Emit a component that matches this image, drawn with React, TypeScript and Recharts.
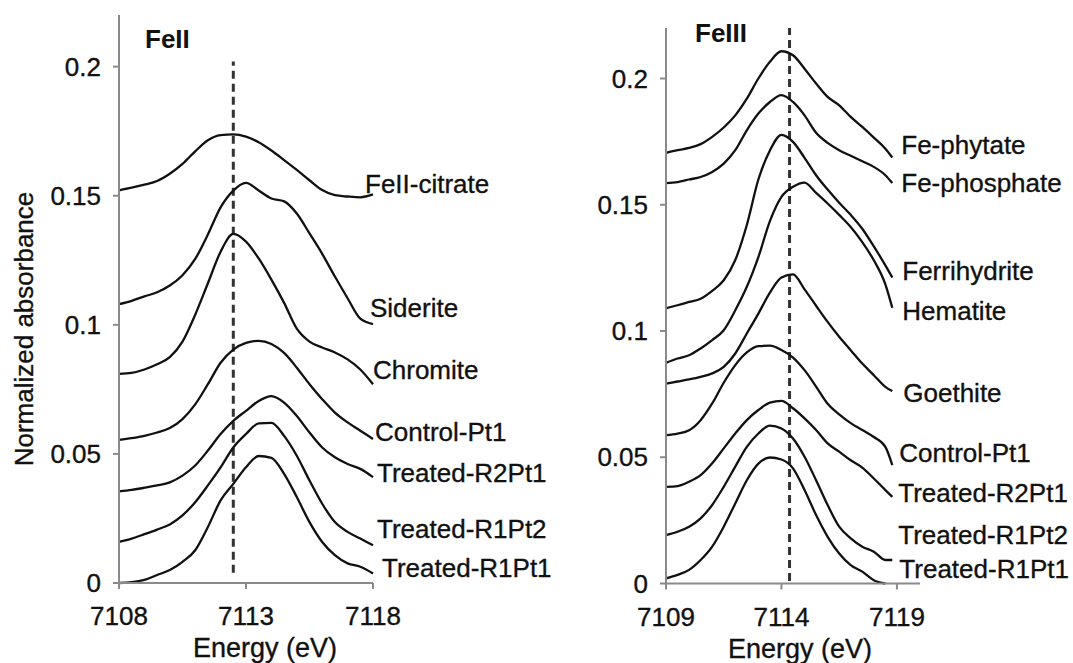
import React from "react";
import {
  LineChart,
  Line,
  XAxis,
  YAxis,
  ReferenceLine,
  Customized,
} from "recharts";

// energy grids (eV)
const feIIEnergy = [
  7108, 7108.5, 7109, 7109.5, 7110, 7110.5, 7111, 7111.5, 7112, 7112.5, 7113,
  7113.5, 7114, 7114.5, 7115, 7115.5, 7116, 7116.5, 7117, 7117.5, 7118,
];
const feIIIEnergy = [
  7109, 7109.5, 7110, 7110.5, 7111, 7111.5, 7112, 7112.5, 7113, 7113.5, 7114,
  7114.5, 7115, 7115.5, 7116, 7116.5, 7117, 7117.5, 7118, 7118.5, 7118.8,
];

// FeII panel spectra
const feIICitrate = [
  0.1521, 0.1531, 0.1543, 0.1557, 0.1585, 0.1623, 0.1672, 0.1715, 0.1735,
  0.1738, 0.1729, 0.1707, 0.1675, 0.1638, 0.16, 0.156, 0.1522, 0.1502, 0.1497,
  0.1494, 0.1505,
];
const siderite = [
  0.108, 0.1093, 0.111, 0.1126, 0.1152, 0.1192, 0.1255, 0.135, 0.1455, 0.152,
  0.155, 0.152, 0.1489, 0.1478, 0.1431, 0.1354, 0.1275, 0.1187, 0.1103, 0.1024,
  0.1003,
];
const chromite = [
  0.081, 0.0814, 0.0827, 0.0847, 0.0875, 0.0935, 0.1039, 0.1161, 0.1283,
  0.1352, 0.1322, 0.1257, 0.1175, 0.1085, 0.0985, 0.0935, 0.0912, 0.0893,
  0.0866, 0.0827, 0.077,
];
const controlPt1II = [
  0.0554, 0.0561, 0.057, 0.0583, 0.06, 0.0635, 0.0692, 0.077, 0.0853, 0.0904,
  0.093, 0.0938, 0.0926, 0.0891, 0.0834, 0.077, 0.0712, 0.066, 0.0622, 0.059,
  0.0558,
];
const treatedR2Pt1II = [
  0.0355, 0.0361, 0.0369, 0.0378, 0.039, 0.0416, 0.0455, 0.0513, 0.0577,
  0.0628, 0.0667, 0.0705, 0.0724, 0.0699, 0.0647, 0.0583, 0.0525, 0.0487,
  0.0461, 0.0442, 0.041,
];
const treatedR1Pt2II = [
  0.0159, 0.0172, 0.0189, 0.0207, 0.0227, 0.0262, 0.0313, 0.0378, 0.0448,
  0.0525, 0.0577, 0.0618, 0.062, 0.057, 0.0493, 0.0397, 0.0307, 0.0236, 0.0198,
  0.0172, 0.0146,
];
const treatedR1Pt1II = [
  0.0, 0.0003, 0.0012, 0.0031, 0.005, 0.0082, 0.0127, 0.0217, 0.032, 0.0384,
  0.0448, 0.0492, 0.0485, 0.0423, 0.0333, 0.0236, 0.0159, 0.0108, 0.0076,
  0.0063, 0.0037,
];

// FeIII panel spectra
const fePhytate = [
  0.1705, 0.1716, 0.1725, 0.174, 0.1769, 0.1806, 0.1854, 0.192, 0.2, 0.2066,
  0.2108, 0.2092, 0.2039, 0.198, 0.1927, 0.1894, 0.1848, 0.1808, 0.1766,
  0.1722, 0.1687,
];
const fePhosphate = [
  0.1586, 0.159, 0.16, 0.161, 0.163, 0.1663, 0.1716, 0.1795, 0.1861, 0.1907,
  0.1934, 0.1907, 0.1854, 0.1785, 0.1745, 0.1716, 0.1694, 0.1672, 0.165,
  0.1617, 0.1586,
];
const ferrihydrite = [
  0.109, 0.1102, 0.1115, 0.1128, 0.1159, 0.1201, 0.1281, 0.142, 0.16, 0.1715,
  0.1777, 0.1749, 0.1686, 0.1617, 0.156, 0.1508, 0.146, 0.1405, 0.1335, 0.126,
  0.1212,
];
const hematite = [
  0.0874, 0.0891, 0.0904, 0.0931, 0.0964, 0.1003, 0.1082, 0.1175, 0.1293,
  0.1435, 0.1531, 0.1571, 0.1588, 0.1547, 0.1505, 0.146, 0.1412, 0.1352, 0.128,
  0.1185, 0.1092,
];
const goethite = [
  0.0792, 0.08, 0.0808, 0.0818, 0.0832, 0.0858, 0.0911, 0.099, 0.1069, 0.1152,
  0.1212, 0.1224, 0.1165, 0.11, 0.1036, 0.0977, 0.0924, 0.0871, 0.0825, 0.0779,
  0.0762,
];
const controlPt1III = [
  0.0588, 0.0594, 0.0607, 0.0647, 0.0713, 0.0795, 0.0865, 0.0915, 0.094,
  0.0942, 0.0925, 0.0895, 0.0845, 0.078, 0.0712, 0.067, 0.0635, 0.0608, 0.058,
  0.0541, 0.0469,
];
const treatedR2Pt1III = [
  0.0383, 0.0386, 0.0403, 0.0429, 0.0476, 0.0535, 0.0594, 0.0647, 0.0687,
  0.0716, 0.0723, 0.0694, 0.0654, 0.0608, 0.0555, 0.0522, 0.0488, 0.0459,
  0.0416, 0.037, 0.0343,
];
const treatedR1Pt2III = [
  0.0192, 0.0205, 0.0225, 0.0258, 0.0311, 0.0383, 0.0463, 0.0541, 0.0594,
  0.0625, 0.0614, 0.0574, 0.0502, 0.0409, 0.0311, 0.0225, 0.0179, 0.0146,
  0.0126, 0.0093, 0.0093,
];
const treatedR1Pt1III = [
  0.002, 0.0034, 0.0054, 0.0093, 0.0146, 0.0225, 0.0317, 0.0409, 0.0475,
  0.0499, 0.0491, 0.0456, 0.037, 0.0271, 0.0185, 0.0119, 0.0073, 0.0047,
  0.0013, 0.0, null,
];

const yTicks = [0, 0.05, 0.1, 0.15, 0.2];
const feIIXTicks = [7108, 7113, 7118];
const feIIIXTicks = [7109, 7114, 7119];
const feIIEdge = 7112.5;
const feIIIEdge = 7114.35;

const FONT = "'Liberation Sans', Arial, Helvetica, sans-serif";
const TEXT = "#111";
const AXIS = "#8a8a8a";

type Series = {
  key: string;
  name: string;
  values: (number | null)[];
  dx: number;
  dy: number;
};

const feIISeries: Series[] = [
  { key: "citrate", name: "FeII-citrate", values: feIICitrate, dx: -8, dy: -10 },
  { key: "siderite", name: "Siderite", values: siderite, dx: -3, dy: -16 },
  { key: "chromite", name: "Chromite", values: chromite, dx: 0, dy: -14 },
  { key: "control", name: "Control-Pt1", values: controlPt1II, dx: 2, dy: -7 },
  { key: "r2pt1", name: "Treated-R2Pt1", values: treatedR2Pt1II, dx: 4, dy: -4 },
  { key: "r1pt2", name: "Treated-R1Pt2", values: treatedR1Pt2II, dx: 4, dy: -16 },
  { key: "r1pt1", name: "Treated-R1Pt1", values: treatedR1Pt1II, dx: 9, dy: -5 },
];

const feIIISeries: Series[] = [
  { key: "phytate", name: "Fe-phytate", values: fePhytate, dx: 9, dy: -13 },
  { key: "phosphate", name: "Fe-phosphate", values: fePhosphate, dx: 9, dy: 0 },
  { key: "ferri", name: "Ferrihydrite", values: ferrihydrite, dx: 10, dy: -6 },
  { key: "hematite", name: "Hematite", values: hematite, dx: 10, dy: 3 },
  { key: "goethite", name: "Goethite", values: goethite, dx: 11, dy: 2 },
  { key: "control", name: "Control-Pt1", values: controlPt1III, dx: 7, dy: -12 },
  { key: "r2pt1", name: "Treated-R2Pt1", values: treatedR2Pt1III, dx: 6, dy: -4 },
  { key: "r1pt2", name: "Treated-R1Pt2", values: treatedR1Pt2III, dx: 6, dy: -25 },
  { key: "r1pt1", name: "Treated-R1Pt1", values: treatedR1Pt1III, dx: 14, dy: -15 },
];

function buildRows(energy: number[], series: Series[]) {
  return energy.map((e, i) => {
    const row: Record<string, number | null> = { e };
    series.forEach((s) => {
      row[s.key] = s.values[i];
    });
    return row;
  });
}

const feIIData = buildRows(feIIEnergy, feIISeries);
const feIIIData = buildRows(feIIIEnergy, feIIISeries);

// slightly heavier text, the source figure is a blurred bitmap
const heavy = { stroke: TEXT, strokeWidth: 0.35 };

function endLabel(s: Series) {
  let last = s.values.length - 1;
  while (last > 0 && s.values[last] == null) last--;
  return (props: any) => {
    if (props.index !== last) return null;
    return (
      <text
        x={props.x + s.dx}
        y={props.y + s.dy}
        dominantBaseline="central"
        textAnchor="start"
        fontSize={26}
        fontFamily={FONT}
        fill={TEXT}
        {...heavy}
      >
        {s.name}
      </text>
    );
  };
}

const tickStyle = {
  fill: TEXT,
  fontSize: 26,
  fontFamily: FONT,
  ...heavy,
};

function Panel({
  data,
  series,
  xDomain,
  xTicks,
  edge,
  edgeTop,
  edgeBottom,
  width,
  margin,
  title,
  titleX,
  titleY,
  xLabelX,
  xLabelY,
  showYLabel,
}: any) {
  return (
    <LineChart width={width} height={663} data={data} margin={margin}>
      <XAxis
        dataKey="e"
        type="number"
        domain={xDomain}
        ticks={xTicks}
        height={50}
        tick={tickStyle}
        tickSize={6}
        tickMargin={18}
        axisLine={{ stroke: AXIS, strokeWidth: 2 }}
        tickLine={{ stroke: AXIS, strokeWidth: 2 }}
      />
      <YAxis
        type="number"
        domain={[0, 0.22]}
        ticks={yTicks}
        width={60}
        tick={tickStyle}
        tickSize={6}
        tickMargin={12}
        axisLine={{ stroke: AXIS, strokeWidth: 2 }}
        tickLine={{ stroke: AXIS, strokeWidth: 2 }}
      />
      <ReferenceLine
        segment={[
          { x: edge, y: edgeBottom },
          { x: edge, y: edgeTop },
        ]}
        stroke="#333"
        strokeWidth={3}
        strokeDasharray="8 5"
      />
      {series.map((s: Series) => (
        <Line
          key={s.key}
          dataKey={s.key}
          type="monotone"
          stroke="#111"
          strokeWidth={2.3}
          dot={false}
          isAnimationActive={false}
          label={endLabel(s)}
        />
      ))}
      <Customized
        component={() => (
          <g fontFamily={FONT} fill={TEXT}>
            <text x={titleX} y={titleY} fontSize={26} fontWeight="bold">
              {title}
            </text>
            <text
              x={xLabelX}
              y={xLabelY}
              fontSize={27}
              textAnchor="middle"
              {...heavy}
            >
              Energy (eV)
            </text>
            {showYLabel && (
              <text
                transform="translate(24,329) rotate(-90)"
                fontSize={26}
                textAnchor="middle"
                dominantBaseline="central"
                {...heavy}
              >
                Normalized absorbance
              </text>
            )}
          </g>
        )}
      />
    </LineChart>
  );
}

export default function App() {
  return (
    <div
      style={{
        position: "absolute",
        left: 0,
        top: 0,
        width: 1073,
        height: 663,
        background: "#fff",
        overflow: "hidden",
      }}
    >
      <div style={{ position: "absolute", left: 0, top: 0 }}>
        <Panel
          data={feIIData}
          series={feIISeries}
          xDomain={[7108, 7118]}
          xTicks={feIIXTicks}
          edge={feIIEdge}
          edgeTop={0.202}
          edgeBottom={0.004}
          width={560}
          margin={{ top: 15, right: 187, bottom: 30, left: 59 }}
          title="FeII"
          titleX={145}
          titleY={48}
          xLabelX={265}
          xLabelY={657}
          showYLabel
        />
      </div>
      <div style={{ position: "absolute", left: 540, top: 0 }}>
        <Panel
          data={feIIIData}
          series={feIIISeries}
          xDomain={[7109, 7120]}
          xTicks={feIIIXTicks}
          edge={feIIIEdge}
          edgeTop={0.22}
          edgeBottom={0.001}
          width={533}
          margin={{ top: 28, right: 153, bottom: 29.5, left: 66 }}
          title="FeIII"
          titleX={155}
          titleY={42}
          xLabelX={260}
          xLabelY={658}
          showYLabel={false}
        />
      </div>
    </div>
  );
}
